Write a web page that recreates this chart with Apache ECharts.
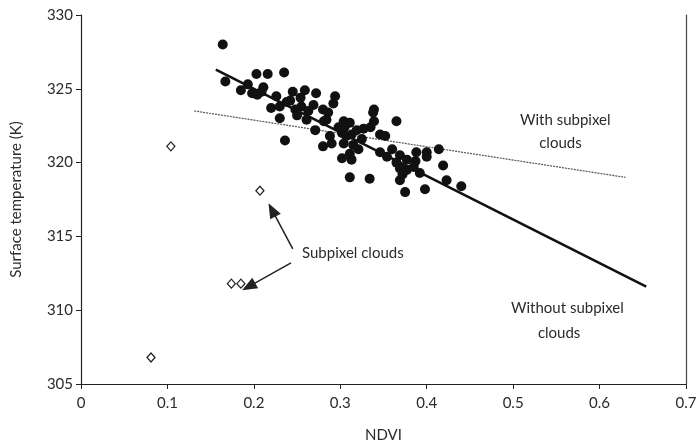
<!DOCTYPE html>
<html>
<head>
<meta charset="utf-8">
<script src="https://cdn.jsdelivr.net/npm/echarts@6/dist/echarts.min.js"></script>
<style>
  html, body { margin: 0; padding: 0; background: #fff; }
  #chart { width: 700px; height: 448px; }
</style>
</head>
<body>
<div id="chart"></div>
<script>
// pixels without subpixel clouds (filled dots)
var ndviClear = [0.164, 0.167, 0.203, 0.216, 0.235, 0.185, 0.193, 0.198, 0.204, 0.211,
    0.226, 0.220, 0.230, 0.245, 0.259, 0.272, 0.230, 0.242, 0.254, 0.255,
    0.261, 0.271, 0.269, 0.280, 0.281, 0.236, 0.280, 0.288, 0.248, 0.238,
    0.294, 0.292, 0.284, 0.339, 0.339, 0.335, 0.365, 0.304, 0.311, 0.302,
    0.307, 0.313, 0.319, 0.290, 0.304, 0.315, 0.321, 0.311, 0.302, 0.313,
    0.346, 0.352, 0.346, 0.354, 0.311, 0.334, 0.369, 0.377, 0.365, 0.369,
    0.377, 0.385, 0.387, 0.388, 0.400, 0.400, 0.414, 0.419, 0.423, 0.369,
    0.375, 0.398, 0.440, 0.338, 0.298, 0.305, 0.263, 0.250, 0.325, 0.372,
    0.392, 0.327, 0.286, 0.209, 0.360];
var tempClear = [328.0, 325.5, 326.0, 326.0, 326.1, 324.9, 325.3, 324.7, 324.6, 325.1,
    324.5, 323.7, 323.8, 324.8, 324.9, 324.7, 323.0, 324.2, 324.4, 323.8,
    322.9, 322.2, 323.9, 323.6, 322.8, 321.5, 321.1, 321.8, 323.6, 324.1,
    324.5, 324.0, 322.9, 323.6, 322.8, 322.4, 322.8, 322.8, 322.7, 322.0,
    321.8, 321.9, 322.2, 321.3, 321.3, 321.2, 320.9, 320.6, 320.3, 320.2,
    321.9, 321.8, 320.7, 320.4, 319.0, 318.9, 320.5, 320.2, 320.0, 319.6,
    319.5, 319.7, 320.1, 320.7, 320.7, 320.4, 320.9, 319.8, 318.8, 318.8,
    318.0, 318.2, 318.4, 323.4, 322.4, 322.4, 323.5, 323.2, 321.6, 319.2,
    319.3, 322.3, 323.4, 324.8, 320.9];

// subpixel cloud pixels (open diamonds)
var ndviCloud = [0.104, 0.207, 0.174, 0.185, 0.081];
var tempCloud = [321.1, 318.1, 311.8, 311.8, 306.8];

// fitted lines: [start, end]
var fitClear = [[0.156, 326.3], [0.654, 311.6]];
var fitAll = [[0.131, 323.5], [0.630, 319.0]];

var xTicks = [0, 0.1, 0.2, 0.3, 0.4, 0.5, 0.6, 0.7];

function zip(a, b) {
    return a.map(function (v, i) { return [v, b[i]]; });
}

var font = 'Lato, "Open Sans", sans-serif';
var txt = '#2b2b2b';

var myChart = echarts.init(document.getElementById('chart'));
var option = {
    animation: false,
    grid: { left: 81, right: 14, top: 15, bottom: 64 },
    xAxis: {
        type: 'value', min: 0, max: 0.7, interval: 0.1,
        name: 'NDVI', nameLocation: 'middle', nameGap: 44,
        nameTextStyle: { fontFamily: font, fontSize: 15, color: txt },
        axisLine: { lineStyle: { color: '#222', width: 1.2 } },
        axisTick: { length: 5, lineStyle: { color: '#222' } },
        axisLabel: {
            margin: 12, fontFamily: font, fontSize: 15, color: txt,
            formatter: function (v) {
                var r = Math.round(v * 10) / 10;
                return xTicks.indexOf(r) >= 0 ? String(r) : '';
            }
        },
        splitLine: { show: false }
    },
    yAxis: [{
        type: 'value', min: 305, max: 330, interval: 5,
        name: 'Surface temperature (K)', nameLocation: 'middle', nameGap: 57,
        nameTextStyle: { fontFamily: font, fontSize: 15, color: txt },
        axisLine: { show: true, lineStyle: { color: '#222', width: 1.2 } },
        axisTick: { show: true, length: 5, lineStyle: { color: '#222' } },
        axisLabel: { margin: 8, fontFamily: font, fontSize: 15, color: txt },
        splitLine: { show: false }
    }, {
        type: 'value', min: 305, max: 330, position: 'right',
        axisLine: { show: true, lineStyle: { color: '#444', width: 1.2 } },
        axisTick: { show: false }, axisLabel: { show: false },
        splitLine: { show: false }
    }],
    series: [{
        name: 'With subpixel clouds fit',
        type: 'line', data: fitAll, symbol: 'none',
        lineStyle: { color: '#555', width: 1.2, type: [2, 1] },
        z: 1
    }, {
        name: 'Without subpixel clouds fit',
        type: 'line', data: fitClear, symbol: 'none',
        lineStyle: { color: '#111', width: 2.6 },
        z: 3
    }, {
        name: 'Clear',
        type: 'scatter', data: zip(ndviClear, tempClear),
        symbol: 'circle', symbolSize: 10,
        itemStyle: { color: '#111', opacity: 1 },
        z: 2
    }, {
        name: 'Subpixel clouds',
        type: 'scatter', data: zip(ndviCloud, tempCloud),
        symbol: 'diamond', symbolSize: [8, 9],
        itemStyle: { color: '#fff', opacity: 1, borderColor: '#222', borderWidth: 1.3 },
        markLine: {
            silent: true, symbol: ['none', 'triangle'], symbolSize: [12, 15],
            lineStyle: { color: '#222', width: 1.5, type: 'solid' },
            label: { show: false },
            data: [
                [{ coord: [0.245, 314.15] }, { coord: [0.221, 316.8] }],
                [{ coord: [0.243, 313.2] }, { coord: [0.194, 311.6] }]
            ]
        },
        z: 4
    }],
    graphic: [{
        type: 'text', left: 520, top: 109,
        style: { text: 'With subpixel\n     clouds', fontFamily: font, fontSize: 15, fill: txt, lineHeight: 23 }
    }, {
        type: 'text', left: 511, top: 296,
        style: { text: 'Without subpixel\n       clouds', fontFamily: font, fontSize: 15, fill: txt, lineHeight: 25 }
    }, {
        type: 'text', left: 302, top: 246,
        style: { text: 'Subpixel clouds', fontFamily: font, fontSize: 15, fill: txt }
    }]
};
myChart.setOption(option);
</script>
</body>
</html>
